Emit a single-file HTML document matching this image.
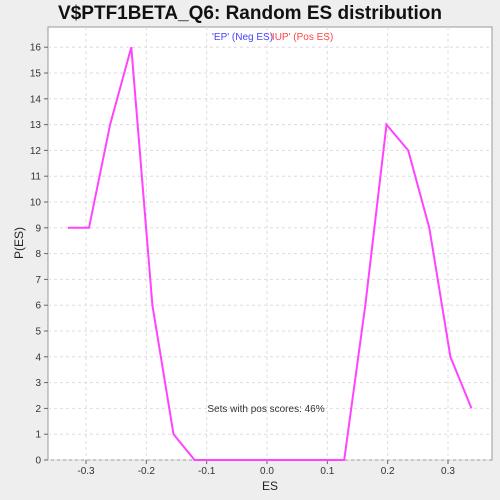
<!DOCTYPE html>
<html><head><meta charset="utf-8"><style>
body{margin:0;background:#eeeeee;}
svg{display:block;font-family:"Liberation Sans",sans-serif;}
</style></head><body>
<svg id="chart" width="500" height="500">
<rect x="0" y="0" width="500" height="500" fill="#eeeeee"/>
<text x="250" y="19" text-anchor="middle" font-size="19" font-weight="bold" fill="#111">V$PTF1BETA_Q6: Random ES distribution</text>
<rect x="48" y="27" width="444" height="433" fill="#fff" stroke="#999"/>
<g id="grid"></g><g id="axes"></g><g id="series"></g>
<text x="212" y="40" font-size="10" fill="#4444ff">'EP' (Neg ES)</text>
<text x="270" y="40" font-size="10" fill="#ff4444">'IUP' (Pos ES)</text>
<text x="266" y="412" text-anchor="middle" font-size="10" fill="#333">Sets with pos scores: 46%</text>
<text x="270" y="490" text-anchor="middle" font-size="12" fill="#222">ES</text>
<text x="23" y="243" text-anchor="middle" font-size="12" fill="#222" transform="rotate(-90 23 243)">P(ES)</text>
</svg>
<script>
const esValues=[-0.330,-0.295,-0.260,-0.225,-0.190,-0.155,-0.120,-0.085,-0.050,-0.015,0.020,0.055,0.090,0.128,0.163,0.198,0.234,0.269,0.304,0.339];
const probValues=[9,9,13,16,6,1,0,0,0,0,0,0,0,0,6,13,12,9,4,2];
const xTicks=[-0.3,-0.2,-0.1,0.0,0.1,0.2,0.3];
const yTicks=[0,1,2,3,4,5,6,7,8,9,10,11,12,13,14,15,16];
const NS='http://www.w3.org/2000/svg';
function xs(v){return 267+v*603.3;}
function ys(v){return 460-v*25.8;}
function mk(t,a,p){const e=document.createElementNS(NS,t);for(const k in a)e.setAttribute(k,a[k]);p.appendChild(e);return e;}
const grid=document.getElementById('grid'),axes=document.getElementById('axes'),ser=document.getElementById('series');
xTicks.forEach(t=>{const x=xs(t);
const g=mk('line',{x1:x,x2:x,y1:27,y2:460,stroke:'#ddd','stroke-dasharray':'3,3'},grid);

mk('line',{x1:x,x2:x,y1:460,y2:464,stroke:'#666'},axes);
const l=mk('text',{x:x,y:474,'text-anchor':'middle','font-size':'10',fill:'#333'},axes);l.textContent=t.toFixed(1);
});
yTicks.forEach(t=>{const y=ys(t);
const g=mk('line',{x1:48,x2:492,y1:y,y2:y,stroke:'#ddd','stroke-dasharray':'3,3'},grid);

mk('line',{x1:44,x2:48,y1:y,y2:y,stroke:'#666'},axes);
const l=mk('text',{x:41,y:y+3.5,'text-anchor':'end','font-size':'10',fill:'#333'},axes);l.textContent=t;
});
const pts=esValues.map((v,i)=>xs(v).toFixed(1)+','+ys(probValues[i]).toFixed(1)).join(' ');
const pl=mk('polyline',{points:pts,fill:'none',stroke:'#ff44ff','stroke-width':'2'},ser);


</script>
</body></html>
